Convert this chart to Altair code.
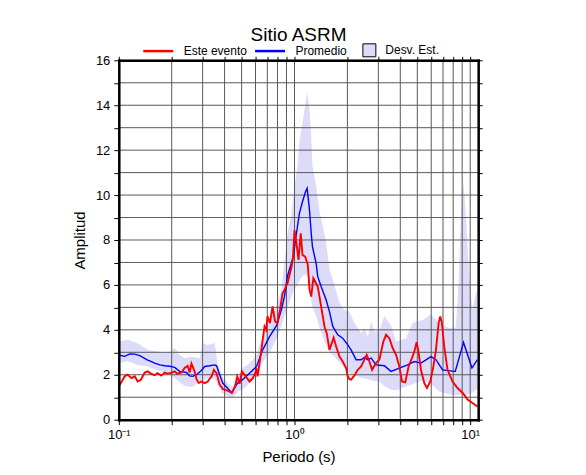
import altair as alt
import pandas as pd

# ---------------- data ----------------
titulo = "Sitio ASRM"
series = ["Este evento", "Promedio"]
etiqueta_desv = "Desv. Est."

periodo_evento = [0.100, 0.1013, 0.104, 0.108, 0.1125, 0.118, 0.1233, 0.128, 0.1335, 0.1405,
                  0.146, 0.152, 0.160, 0.166, 0.1745, 0.1825, 0.189, 0.198, 0.208, 0.215,
                  0.2275, 0.237, 0.2465, 0.253, 0.259, 0.270, 0.2775, 0.285, 0.295, 0.308,
                  0.3205, 0.3375, 0.3475, 0.360, 0.375, 0.392, 0.416, 0.4405, 0.459, 0.472,
                  0.487, 0.502, 0.527, 0.555, 0.579, 0.608, 0.6165, 0.6325, 0.655, 0.675,
                  0.690, 0.702, 0.725, 0.750, 0.775, 0.800, 0.827, 0.855, 0.877, 0.912,
                  0.962, 0.980, 1.000, 1.026, 1.054, 1.085, 1.11, 1.15, 1.19, 1.217,
                  1.245, 1.28, 1.356, 1.418, 1.481, 1.526, 1.581, 1.67, 1.726, 1.803,
                  1.88, 1.967, 2.009, 2.054, 2.099, 2.19, 2.29, 2.393, 2.50, 2.576,
                  2.669, 2.764, 2.911, 3.04, 3.205, 3.32, 3.466, 3.618, 3.785, 3.95,
                  4.09, 4.27, 4.46, 4.66, 4.81, 4.955, 5.085, 5.25, 5.48, 5.675,
                  5.93, 6.17, 6.385, 6.61, 6.75, 6.90, 7.11, 7.43, 7.93, 8.47,
                  9.04, 9.66, 10.30, 11.0]
amp_evento = [1.48, 1.55, 1.7, 1.93, 2.0, 1.85, 1.93, 1.7, 1.78, 2.1,
              2.15, 2.05, 1.98, 2.07, 1.96, 2.1, 2.05, 2.08, 2.15, 2.05,
              2.1, 2.3, 2.4, 2.1, 2.5, 2.15, 1.78, 1.63, 1.7, 1.63,
              1.7, 1.93, 2.22, 2.07, 1.56, 1.36, 1.29, 1.19, 1.48, 1.93,
              1.6, 2.15, 1.93, 1.7, 1.85, 2.22, 1.93, 2.52, 3.4, 4.15,
              4.0, 4.6, 4.3, 5.04, 4.37, 4.3, 4.9, 5.63, 5.78, 6.07,
              6.81, 7.2, 8.44, 7.85, 7.11, 8.3, 7.33, 7.26, 6.9, 5.8,
              5.48, 6.3, 5.93, 5.04, 4.15, 3.85, 3.11, 3.65, 3.26, 2.81,
              2.59, 2.3, 1.93, 1.8, 1.78, 1.96, 2.22, 2.37, 2.67, 2.89,
              2.59, 2.22, 2.52, 2.67, 3.48, 3.78, 3.63, 3.19, 2.89, 2.37,
              1.7, 1.66, 2.37, 2.74, 3.04, 3.45, 3.0, 2.2, 1.63, 1.41,
              1.7, 2.37, 3.11, 4.3, 4.6, 4.3, 3.26, 2.22, 1.7, 1.41,
              1.2, 0.9, 0.74, 0.59]

periodo_prom = [0.100, 0.108, 0.1155, 0.1233, 0.1316, 0.146, 0.150, 0.160, 0.171, 0.1825,
                0.195, 0.208, 0.222, 0.243, 0.253, 0.263, 0.2775, 0.296, 0.308, 0.329,
                0.351, 0.360, 0.375, 0.390, 0.416, 0.4385, 0.474, 0.506, 0.555, 0.608,
                0.658, 0.721, 0.791, 0.843, 0.877, 0.912, 0.962, 0.987, 1.026, 1.067,
                1.11, 1.155, 1.18, 1.217, 1.245, 1.265, 1.328, 1.356, 1.418, 1.514,
                1.581, 1.652, 1.763, 1.880, 2.009, 2.099, 2.242, 2.393, 2.50, 2.61,
                2.73, 2.911, 3.245, 3.542, 3.95, 4.40, 4.81, 5.25, 5.98, 6.385,
                6.96, 8.11, 8.22, 9.16, 10.23, 11.0]
amp_prom = [2.88, 2.82, 2.93, 2.92, 2.85, 2.65, 2.62, 2.52, 2.44, 2.4,
            2.38, 2.33, 2.15, 2.1, 1.95, 1.93, 2.0, 2.2, 2.37, 2.4,
            2.44, 2.4, 2.0, 1.63, 1.4, 1.21, 1.63, 1.78, 2.07, 2.37,
            3.1, 3.7, 4.2, 4.9, 5.5, 6.4, 7.0, 7.3, 8.3, 9.2,
            9.7, 10.15, 10.3, 9.33, 8.3, 7.7, 6.96, 6.37, 5.93, 5.33,
            4.81, 4.15, 3.78, 3.63, 3.33, 3.11, 2.67, 2.67, 2.77, 2.67,
            2.74, 2.44, 2.4, 2.15, 2.3, 2.44, 2.59, 2.52, 2.81, 2.67,
            2.22, 2.15, 2.15, 3.44, 2.3, 2.67]

periodo_desv = [0.100, 0.1125, 0.128, 0.146, 0.1665, 0.190, 0.208, 0.222, 0.237, 0.260,
                0.2885, 0.300, 0.3205, 0.351, 0.365, 0.385, 0.416, 0.4445, 0.474, 0.506,
                0.555, 0.608, 0.658, 0.721, 0.791, 0.843, 0.877, 0.912, 0.962, 1.000,
                1.04, 1.067, 1.11, 1.18, 1.217, 1.245, 1.265, 1.328, 1.387, 1.45,
                1.514, 1.581, 1.687, 1.803, 1.923, 2.054, 2.19, 2.393, 2.50, 2.61,
                2.73, 2.85, 3.04, 3.245, 3.542, 3.785, 4.31, 4.70, 5.36, 5.98,
                6.67, 7.60, 8.29, 8.58, 8.85, 9.16, 9.45, 9.86, 10.30, 10.77, 11.0]
desv_sup = [3.48, 3.56, 3.4, 3.11, 3.04, 2.96, 3.19, 2.89, 2.74, 2.8,
            2.74, 3.41, 3.33, 3.41, 2.52, 2.0, 1.63, 1.45, 1.85, 2.3,
            2.5, 2.9, 3.7, 4.3, 5.1, 5.8, 7.0, 8.3, 9.2, 10.4,
            11.3, 12.4, 13.2, 14.6, 13.8, 12.6, 11.3, 10.4, 9.3, 8.6,
            7.85, 6.7, 6.0, 5.2, 4.9, 4.8, 4.3, 3.85, 4.07, 3.7,
            4.37, 3.9, 4.0, 4.6, 4.2, 3.48, 3.63, 4.3, 4.44, 4.67,
            4.3, 4.07, 4.1, 6.07, 9.04, 10.6, 9.04, 6.5, 4.9, 5.63, 5.75]
desv_inf = [2.52, 2.6, 2.44, 2.37, 2.19, 2.07, 1.85, 1.65, 1.51, 1.45,
            1.68, 1.75, 1.85, 1.8, 1.6, 1.19, 1.04, 0.96, 1.26, 1.33,
            1.63, 1.85, 2.52, 3.0, 3.6, 4.2, 4.6, 5.0, 5.5, 5.8,
            6.0, 6.2, 6.4, 6.5, 6.0, 5.3, 5.0, 4.6, 4.1, 3.7,
            3.3, 3.0, 2.8, 2.55, 2.3, 2.07, 1.98, 1.87, 1.83, 1.8,
            1.76, 1.72, 1.7, 1.5, 1.33, 1.3, 1.48, 1.58, 1.75, 1.6,
            1.25, 1.12, 1.1, 1.1, 1.1, 1.1, 1.1, 1.15, 1.2, 1.33, 1.35]

ticks_x = [0.1, 0.2, 0.3, 0.4, 0.5, 0.6, 0.7, 0.8, 0.9,
           1, 2, 3, 4, 5, 6, 7, 8, 9, 10]
ticks_y = list(range(0, 17))

# ---------------- tables ----------------
df_ev = pd.DataFrame({"periodo": periodo_evento, "amp": amp_evento, "serie": series[0]})
df_pr = pd.DataFrame({"periodo": periodo_prom, "amp": amp_prom, "serie": series[1]})
df_de = pd.DataFrame({"periodo": periodo_desv, "inf": desv_inf, "sup": desv_sup,
                      "etiqueta": etiqueta_desv})
df_gx = pd.DataFrame({"v": ticks_x})
df_gy = pd.DataFrame({"v": ticks_y})
df_t = pd.DataFrame({"t": [titulo]})

FONT = "Liberation Sans"
GRID = "#585858"
xscale = alt.Scale(type="log", domain=[0.1, 11.1])
yscale = alt.Scale(domain=[0, 16], nice=False, zero=False)
cscale = alt.Scale(domain=series, range=["#ff0000", "#0000ff"])

common_axis = dict(domain=True, domainColor="black", domainWidth=2.5, domainCap="square",
                   tickColor="black", grid=False, zindex=1)

x_bottom = alt.Axis(values=ticks_x, orient="bottom",
                    labelExpr="datum.value == 0.1 ? '10⁻¹' : datum.value == 1 ? '10⁰' : datum.value == 10 ? '10¹' : ''",
                    tickSize=5, labelFont=FONT, labelFontSize=13, labelColor="black",
                    labelPadding=4, labelOverlap=False, labelFlush=False, labelBound=False,
                    title="Periodo (s)", titleFont=FONT, titleFontSize=15,
                    titleFontWeight="normal", titleColor="black", titlePadding=8,
                    **common_axis)
y_left = alt.Axis(values=ticks_y, orient="left",
                  labelExpr="datum.value % 2 == 0 ? datum.label : ''",
                  tickSize=5, labelFont=FONT, labelFontSize=13, labelColor="black",
                  labelPadding=4, labelOverlap=False, labelFlush=False, labelBound=False,
                  title="Amplitud", titleFont=FONT, titleFontSize=15,
                  titleFontWeight="normal", titleColor="black", titlePadding=8,
                  **common_axis)
x_top = alt.Axis(values=ticks_x, orient="top", labels=False, tickSize=4, title=None,
                 **common_axis)
y_right = alt.Axis(values=ticks_y, orient="right", labels=False, tickSize=4, title=None,
                   **common_axis)

band = alt.Chart(df_de).mark_area(clip=True, opacity=1).encode(
    x=alt.X("periodo:Q", scale=xscale, axis=x_bottom),
    y=alt.Y("inf:Q", scale=yscale, axis=y_left),
    y2="sup:Q",
    fill=alt.Fill("etiqueta:N",
                  scale=alt.Scale(domain=[etiqueta_desv], range=["#dcdcfa"]),
                  legend=alt.Legend(orient="none", legendX=244, legendY=-17,
                                    direction="horizontal", title=None, padding=0,
                                    symbolType="square", symbolSize=169,
                                    symbolStrokeColor="black", symbolStrokeWidth=1,
                                    labelFont=FONT, labelFontSize=12, labelColor="black",
                                    labelOffset=9)),
)

grid_x = alt.Chart(df_gx).mark_rule(color=GRID, strokeWidth=1).encode(
    x=alt.X("v:Q", scale=xscale, axis=None))
grid_y = alt.Chart(df_gy).mark_rule(color=GRID, strokeWidth=1).encode(
    y=alt.Y("v:Q", scale=yscale, axis=None))

line_legend = alt.Legend(orient="none", legendX=23, legendY=-26, direction="horizontal",
                         title=None, padding=0, symbolType="stroke", symbolSize=900,
                         symbolStrokeWidth=2.5, labelFont=FONT, labelFontSize=12,
                         labelColor="black", labelOffset=9, columnPadding=2)

prom = alt.Chart(df_pr).mark_line(clip=True, strokeWidth=1.4).encode(
    x=alt.X("periodo:Q", scale=xscale, axis=x_top),
    y=alt.Y("amp:Q", scale=yscale, axis=y_right),
    color=alt.Color("serie:N", scale=cscale, legend=line_legend),
)
evento = alt.Chart(df_ev).mark_line(clip=True, strokeWidth=1.9).encode(
    x=alt.X("periodo:Q", scale=xscale, axis=None),
    y=alt.Y("amp:Q", scale=yscale, axis=None),
    color=alt.Color("serie:N", scale=cscale, legend=line_legend),
)

title_txt = alt.Chart(df_t).mark_text(font=FONT, fontSize=19, align="center",
                                      baseline="alphabetic", color="black").encode(
    x=alt.value(180), y=alt.value(-19), text="t:N")

chart = alt.layer(band, grid_x, grid_y, prom, evento, title_txt).resolve_axis(
    x="independent", y="independent"
).properties(
    width=360, height=360,
    autosize=alt.AutoSizeParams(type="none"),
    padding={"left": 111, "top": 52, "right": 100, "bottom": 50},
).configure_view(stroke=None)

chart.save("out.html", embed_options={"renderer": "svg", "actions": False})
